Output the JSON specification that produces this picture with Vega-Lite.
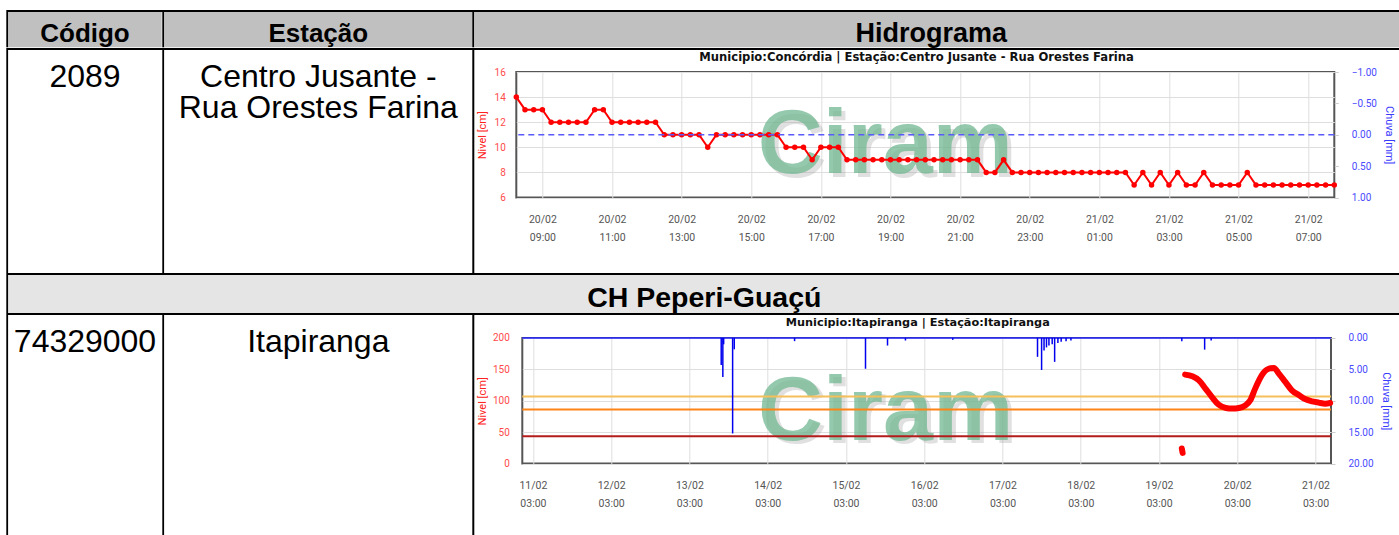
{
  "$schema": "https://vega.github.io/schema/vega-lite/v6.json",
  "background": "white",
  "padding": {"left": 6.3, "top": 10, "right": 0, "bottom": 0},
  "config": {
    "view": {"stroke": null},
    "concat": {"spacing": 0},
    "font": "Roboto",
    "axis": {"labelFont": "Roboto", "titleFont": "Roboto", "titleFontWeight": "normal"}
  },
  "datasets": {
    "nivel_top": [
      {"t": "2025-02-20T08:15", "nivel": 14}, {"t": "2025-02-20T08:30", "nivel": 13}, {"t": "2025-02-20T08:45", "nivel": 13}, {"t": "2025-02-20T09:00", "nivel": 13},
      {"t": "2025-02-20T09:15", "nivel": 12}, {"t": "2025-02-20T09:30", "nivel": 12}, {"t": "2025-02-20T09:45", "nivel": 12}, {"t": "2025-02-20T10:00", "nivel": 12},
      {"t": "2025-02-20T10:15", "nivel": 12}, {"t": "2025-02-20T10:30", "nivel": 13}, {"t": "2025-02-20T10:45", "nivel": 13}, {"t": "2025-02-20T11:00", "nivel": 12},
      {"t": "2025-02-20T11:15", "nivel": 12}, {"t": "2025-02-20T11:30", "nivel": 12}, {"t": "2025-02-20T11:45", "nivel": 12}, {"t": "2025-02-20T12:00", "nivel": 12},
      {"t": "2025-02-20T12:15", "nivel": 12}, {"t": "2025-02-20T12:30", "nivel": 11}, {"t": "2025-02-20T12:45", "nivel": 11}, {"t": "2025-02-20T13:00", "nivel": 11},
      {"t": "2025-02-20T13:15", "nivel": 11}, {"t": "2025-02-20T13:30", "nivel": 11}, {"t": "2025-02-20T13:45", "nivel": 10}, {"t": "2025-02-20T14:00", "nivel": 11},
      {"t": "2025-02-20T14:15", "nivel": 11}, {"t": "2025-02-20T14:30", "nivel": 11}, {"t": "2025-02-20T14:45", "nivel": 11}, {"t": "2025-02-20T15:00", "nivel": 11},
      {"t": "2025-02-20T15:15", "nivel": 11}, {"t": "2025-02-20T15:30", "nivel": 11}, {"t": "2025-02-20T15:45", "nivel": 11}, {"t": "2025-02-20T16:00", "nivel": 10},
      {"t": "2025-02-20T16:15", "nivel": 10}, {"t": "2025-02-20T16:30", "nivel": 10}, {"t": "2025-02-20T16:45", "nivel": 9}, {"t": "2025-02-20T17:00", "nivel": 10},
      {"t": "2025-02-20T17:15", "nivel": 10}, {"t": "2025-02-20T17:30", "nivel": 10}, {"t": "2025-02-20T17:45", "nivel": 9}, {"t": "2025-02-20T18:00", "nivel": 9},
      {"t": "2025-02-20T18:15", "nivel": 9}, {"t": "2025-02-20T18:30", "nivel": 9}, {"t": "2025-02-20T18:45", "nivel": 9}, {"t": "2025-02-20T19:00", "nivel": 9},
      {"t": "2025-02-20T19:15", "nivel": 9}, {"t": "2025-02-20T19:30", "nivel": 9}, {"t": "2025-02-20T19:45", "nivel": 9}, {"t": "2025-02-20T20:00", "nivel": 9},
      {"t": "2025-02-20T20:15", "nivel": 9}, {"t": "2025-02-20T20:30", "nivel": 9}, {"t": "2025-02-20T20:45", "nivel": 9}, {"t": "2025-02-20T21:00", "nivel": 9},
      {"t": "2025-02-20T21:15", "nivel": 9}, {"t": "2025-02-20T21:30", "nivel": 9}, {"t": "2025-02-20T21:45", "nivel": 8}, {"t": "2025-02-20T22:00", "nivel": 8},
      {"t": "2025-02-20T22:15", "nivel": 9}, {"t": "2025-02-20T22:30", "nivel": 8}, {"t": "2025-02-20T22:45", "nivel": 8}, {"t": "2025-02-20T23:00", "nivel": 8},
      {"t": "2025-02-20T23:15", "nivel": 8}, {"t": "2025-02-20T23:30", "nivel": 8}, {"t": "2025-02-20T23:45", "nivel": 8}, {"t": "2025-02-21T00:00", "nivel": 8},
      {"t": "2025-02-21T00:15", "nivel": 8}, {"t": "2025-02-21T00:30", "nivel": 8}, {"t": "2025-02-21T00:45", "nivel": 8}, {"t": "2025-02-21T01:00", "nivel": 8},
      {"t": "2025-02-21T01:15", "nivel": 8}, {"t": "2025-02-21T01:30", "nivel": 8}, {"t": "2025-02-21T01:45", "nivel": 8}, {"t": "2025-02-21T02:00", "nivel": 7},
      {"t": "2025-02-21T02:15", "nivel": 8}, {"t": "2025-02-21T02:30", "nivel": 7}, {"t": "2025-02-21T02:45", "nivel": 8}, {"t": "2025-02-21T03:00", "nivel": 7},
      {"t": "2025-02-21T03:15", "nivel": 8}, {"t": "2025-02-21T03:30", "nivel": 7}, {"t": "2025-02-21T03:45", "nivel": 7}, {"t": "2025-02-21T04:00", "nivel": 8},
      {"t": "2025-02-21T04:15", "nivel": 7}, {"t": "2025-02-21T04:30", "nivel": 7}, {"t": "2025-02-21T04:45", "nivel": 7}, {"t": "2025-02-21T05:00", "nivel": 7},
      {"t": "2025-02-21T05:15", "nivel": 8}, {"t": "2025-02-21T05:30", "nivel": 7}, {"t": "2025-02-21T05:45", "nivel": 7}, {"t": "2025-02-21T06:00", "nivel": 7},
      {"t": "2025-02-21T06:15", "nivel": 7}, {"t": "2025-02-21T06:30", "nivel": 7}, {"t": "2025-02-21T06:45", "nivel": 7}, {"t": "2025-02-21T07:00", "nivel": 7},
      {"t": "2025-02-21T07:15", "nivel": 7}, {"t": "2025-02-21T07:30", "nivel": 7}, {"t": "2025-02-21T07:45", "nivel": 7}
    ],
    "nivel_bottom": [
      {"t": "2025-02-19T10:00", "nivel": 24, "g": "a"}, {"t": "2025-02-19T10:15", "nivel": 17, "g": "a"},
      {"t": "2025-02-19T11:00", "nivel": 141.7, "g": "b"}, {"t": "2025-02-19T13:15", "nivel": 139, "g": "b"},
      {"t": "2025-02-19T15:15", "nivel": 132.6, "g": "b"}, {"t": "2025-02-19T17:15", "nivel": 119.4, "g": "b"},
      {"t": "2025-02-19T19:15", "nivel": 106, "g": "b"}, {"t": "2025-02-19T21:15", "nivel": 94, "g": "b"},
      {"t": "2025-02-19T23:30", "nivel": 88.5, "g": "b"}, {"t": "2025-02-20T01:30", "nivel": 87.6, "g": "b"},
      {"t": "2025-02-20T03:30", "nivel": 88.5, "g": "b"}, {"t": "2025-02-20T05:30", "nivel": 92.8, "g": "b"},
      {"t": "2025-02-20T07:00", "nivel": 100.8, "g": "b"}, {"t": "2025-02-20T08:30", "nivel": 119.4, "g": "b"},
      {"t": "2025-02-20T10:30", "nivel": 140.6, "g": "b"}, {"t": "2025-02-20T12:45", "nivel": 151.3, "g": "b"},
      {"t": "2025-02-20T14:15", "nivel": 152.2, "g": "b"}, {"t": "2025-02-20T15:45", "nivel": 143.3, "g": "b"},
      {"t": "2025-02-20T17:45", "nivel": 130, "g": "b"}, {"t": "2025-02-20T19:45", "nivel": 116.7, "g": "b"},
      {"t": "2025-02-20T22:00", "nivel": 108.8, "g": "b"}, {"t": "2025-02-21T00:00", "nivel": 102.4, "g": "b"},
      {"t": "2025-02-21T02:00", "nivel": 99.2, "g": "b"}, {"t": "2025-02-21T04:00", "nivel": 97.1, "g": "b"},
      {"t": "2025-02-21T06:00", "nivel": 95.5, "g": "b"}, {"t": "2025-02-21T07:30", "nivel": 96.5, "g": "b"}
    ],
    "chuva_bottom": [
      {"t": "2025-02-13T12:45", "chuva": 4.3}, {"t": "2025-02-13T13:15", "chuva": 6.2}, {"t": "2025-02-13T13:30", "chuva": 1.0},
      {"t": "2025-02-13T16:15", "chuva": 15.2}, {"t": "2025-02-13T16:45", "chuva": 1.8}, {"t": "2025-02-14T11:15", "chuva": 0.5},
      {"t": "2025-02-15T09:00", "chuva": 4.9}, {"t": "2025-02-15T15:45", "chuva": 1.2}, {"t": "2025-02-15T21:15", "chuva": 0.4},
      {"t": "2025-02-16T11:45", "chuva": 0.3}, {"t": "2025-02-17T13:45", "chuva": 3.0}, {"t": "2025-02-17T15:00", "chuva": 5.1},
      {"t": "2025-02-17T15:45", "chuva": 2.0}, {"t": "2025-02-17T16:30", "chuva": 1.5}, {"t": "2025-02-17T17:15", "chuva": 1.2},
      {"t": "2025-02-17T18:15", "chuva": 1.0}, {"t": "2025-02-17T19:00", "chuva": 3.8}, {"t": "2025-02-17T20:00", "chuva": 0.8},
      {"t": "2025-02-17T21:00", "chuva": 0.6}, {"t": "2025-02-17T22:30", "chuva": 0.5}, {"t": "2025-02-18T00:00", "chuva": 0.4},
      {"t": "2025-02-19T10:00", "chuva": 0.5}, {"t": "2025-02-19T17:00", "chuva": 1.85}, {"t": "2025-02-19T19:00", "chuva": 0.4}
    ],
    "limiares": [
      {"limiar": "1", "nivel": 107}, {"limiar": "2", "nivel": 86}, {"limiar": "3", "nivel": 43.5}
    ]
  },
  "spacing": 0,
  "vconcat": [
    {"width": 1400, "height": 2, "view": {"fill": "#000"}, "data": {"values": []}, "mark": "point"},
    {
      "spacing": 0,
      "hconcat": [
        {"width": 2, "height": 35.3, "view": {"fill": "#000"}, "data": {"values": []}, "mark": "point"},
        {"width": 153.4, "height": 35.3, "view": {"fill": "#c0c0c0"},
         "data": {"values": [{"txt": "Código"}]},
         "mark": {"type": "text", "font": "Liberation Sans", "fontSize": 26, "fontWeight": "bold", "color": "#000", "baseline": "middle", "dy": 4},
         "encoding": {"text": {"field": "txt"}}},
        {"width": 2, "height": 35.3, "view": {"fill": "#000"}, "data": {"values": []}, "mark": "point"},
        {"width": 308, "height": 35.3, "view": {"fill": "#c0c0c0"},
         "data": {"values": [{"txt": "Estação"}]},
         "mark": {"type": "text", "font": "Liberation Sans", "fontSize": 26, "fontWeight": "bold", "color": "#000", "baseline": "middle", "dy": 4},
         "encoding": {"text": {"field": "txt"}}},
        {"width": 2, "height": 35.3, "view": {"fill": "#000"}, "data": {"values": []}, "mark": "point"},
        {"width": 930, "height": 35.3, "view": {"fill": "#c0c0c0"},
         "data": {"values": [{"txt": "Hidrograma"}]},
         "mark": {"type": "text", "font": "Liberation Sans", "fontSize": 27, "fontWeight": "bold", "color": "#000", "baseline": "middle", "dy": 4, "dx": -8},
         "encoding": {"text": {"field": "txt"}}}
      ]
    },
    {"width": 1400, "height": 2, "view": {"fill": "#000"}, "data": {"values": []}, "mark": "point"},
    {
      "spacing": 0,
      "hconcat": [
        {"width": 2, "height": 223, "view": {"fill": "#000"}, "data": {"values": []}, "mark": "point"},
        {"width": 153.4, "height": 223, "view": {"fill": "white"},
         "data": {"values": [{"txt": "2089"}]},
         "mark": {"type": "text", "font": "Liberation Sans", "fontSize": 32, "color": "#000", "baseline": "middle"},
         "encoding": {"text": {"field": "txt"}, "y": {"value": 27}}},
        {"width": 2, "height": 223, "view": {"fill": "#000"}, "data": {"values": []}, "mark": "point"},
        {"width": 308, "height": 223, "view": {"fill": "white"},
         "data": {"values": [{"txt": "Centro Jusante -\nRua Orestes Farina"}]},
         "mark": {"type": "text", "font": "Liberation Sans", "fontSize": 32, "color": "#000", "baseline": "middle", "lineBreak": "\n", "lineHeight": 31.5},
         "encoding": {"text": {"field": "txt"}, "y": {"value": 27}}},
        {"width": 2, "height": 223, "view": {"fill": "#000"}, "data": {"values": []}, "mark": "point"},
        {
          "spacing": 0,
          "vconcat": [
            {"width": 800.6, "height": 15.7, "view": {"fill": "transparent"},
             "data": {"values": [{"txt": "Municipio:Concórdia | Estação:Centro Jusante - Rua Orestes Farina"}]},
             "mark": {"type": "text", "font": "DejaVu Sans", "fontSize": 11.6, "fontWeight": "bold", "color": "#111", "baseline": "middle", "dy": 0.3},
             "encoding": {"text": {"field": "txt"}}},
            {
              "width": 818, "height": 125.5,
              "view": {"stroke": "#555", "strokeWidth": 2},
              "layer": [
                {"data": {"values": [{"w": "Ciram"}]},
                 "mark": {"type": "text", "font": "Liberation Sans", "fontWeight": "bold", "fontSize": 90, "color": "#9a9a9a", "opacity": 0.3, "dx": -36, "dy": 15, "baseline": "middle"},
                 "encoding": {"text": {"field": "w"}}},
                {"data": {"values": [{"w": "Ciram"}]},
                 "mark": {"type": "text", "font": "Liberation Sans", "fontWeight": "bold", "fontSize": 90, "color": "#72b892", "opacity": 0.75, "dx": -40, "dy": 11.5, "baseline": "middle"},
                 "encoding": {"text": {"field": "w"}}},
                {"data": {"name": "nivel_top"},
                 "mark": {"type": "line", "color": "#ff0000", "strokeWidth": 2, "point": {"filled": true, "size": 30, "color": "#ff0000"}},
                 "encoding": {
                   "x": {"field": "t", "type": "temporal",
                         "scale": {"domain": [{"year": 2025, "month": 2, "date": 20, "hours": 8, "minutes": 15}, {"year": 2025, "month": 2, "date": 21, "hours": 7, "minutes": 45}]},
                         "axis": {"title": null, "values": [
                           {"year": 2025, "month": 2, "date": 20, "hours": 9}, {"year": 2025, "month": 2, "date": 20, "hours": 11},
                           {"year": 2025, "month": 2, "date": 20, "hours": 13}, {"year": 2025, "month": 2, "date": 20, "hours": 15},
                           {"year": 2025, "month": 2, "date": 20, "hours": 17}, {"year": 2025, "month": 2, "date": 20, "hours": 19},
                           {"year": 2025, "month": 2, "date": 20, "hours": 21}, {"year": 2025, "month": 2, "date": 20, "hours": 23},
                           {"year": 2025, "month": 2, "date": 21, "hours": 1}, {"year": 2025, "month": 2, "date": 21, "hours": 3},
                           {"year": 2025, "month": 2, "date": 21, "hours": 5}, {"year": 2025, "month": 2, "date": 21, "hours": 7}],
                           "labelExpr": "[timeFormat(datum.value, '%d/%m'), timeFormat(datum.value, '%H:%M')]",
                           "labelLineHeight": 18, "labelFontSize": 10.5, "labelColor": "#555", "labelPadding": 17,
                           "ticks": false, "domain": false, "grid": true, "gridColor": "#dedede", "labelOverlap": false, "labelFlush": false}},
                   "y": {"field": "nivel", "type": "quantitative", "scale": {"domain": [6, 16]},
                         "axis": {"title": "Nivel [cm]", "values": [6, 8, 10, 12, 14, 16], "titleColor": "#ff2020", "titleFontSize": 11, "titlePadding": 7,
                                  "labelColor": "#ff4a4a", "labelFontSize": 10, "labelPadding": 11, "labelOverlap": false, "ticks": false, "domain": false, "grid": true, "gridColor": "#dedede"}}
                 }},
                {"data": {"values": [{"chuva": 0}]},
                 "mark": {"type": "rule", "color": "#5a5aff", "strokeDash": [6, 4], "strokeWidth": 1.3},
                 "encoding": {
                   "y": {"field": "chuva", "type": "quantitative", "scale": {"domain": [-1, 1], "reverse": true},
                         "axis": {"orient": "right", "title": "Chuva [mm]", "values": [-1, -0.5, 0, 0.5, 1], "format": ".2f",
                                  "titleColor": "#3c3cff", "titleFontSize": 11, "titlePadding": 7, "labelOverlap": false,
                                  "labelColor": "#4a4aff", "labelFontSize": 10, "labelPadding": 13, "ticks": true, "tickSize": 4, "tickColor": "#cccccc", "domain": false, "grid": false}}
                 }}
              ],
              "resolve": {"scale": {"y": "independent"}, "axis": {"y": "independent"}}
            }
          ]
        }
      ]
    },
    {"width": 1400, "height": 2, "view": {"fill": "#000"}, "data": {"values": []}, "mark": "point"},
    {
      "spacing": 0,
      "hconcat": [
        {"width": 2, "height": 38, "view": {"fill": "#000"}, "data": {"values": []}, "mark": "point"},
        {"width": 1392, "height": 38, "view": {"fill": "#e6e5e6"},
         "data": {"values": [{"txt": "CH Peperi-Guaçú"}]},
         "mark": {"type": "text", "font": "Liberation Sans", "fontSize": 28.5, "fontWeight": "bold", "color": "#000", "baseline": "middle", "dy": 4.5},
         "encoding": {"text": {"field": "txt"}}}
      ]
    },
    {"width": 1400, "height": 2, "view": {"fill": "#000"}, "data": {"values": []}, "mark": "point"},
    {
      "spacing": 0,
      "hconcat": [
        {"width": 2, "height": 225, "view": {"fill": "#000"}, "data": {"values": []}, "mark": "point"},
        {"width": 153.4, "height": 225, "view": {"fill": "white"},
         "data": {"values": [{"txt": "74329000"}]},
         "mark": {"type": "text", "font": "Liberation Sans", "fontSize": 32, "color": "#000", "baseline": "middle"},
         "encoding": {"text": {"field": "txt"}, "y": {"value": 27.5}}},
        {"width": 2, "height": 225, "view": {"fill": "#000"}, "data": {"values": []}, "mark": "point"},
        {"width": 308, "height": 225, "view": {"fill": "white"},
         "data": {"values": [{"txt": "Itapiranga"}]},
         "mark": {"type": "text", "font": "Liberation Sans", "fontSize": 32, "color": "#000", "baseline": "middle"},
         "encoding": {"text": {"field": "txt"}, "y": {"value": 27.5}}},
        {"width": 2, "height": 225, "view": {"fill": "#000"}, "data": {"values": []}, "mark": "point"},
        {
          "spacing": 0,
          "vconcat": [
            {"width": 791, "height": 16.1, "view": {"fill": "transparent"},
             "data": {"values": [{"txt": "Municipio:Itapiranga | Estação:Itapiranga"}]},
             "mark": {"type": "text", "font": "DejaVu Sans", "fontSize": 11.3, "fontWeight": "bold", "color": "#111", "baseline": "middle", "dy": 0},
             "encoding": {"text": {"field": "txt"}}},
            {
              "width": 808.7, "height": 125.6,
              "view": {"stroke": "#555", "strokeWidth": 2},
              "layer": [
                {"data": {"values": [{"w": "Ciram"}]},
                 "mark": {"type": "text", "font": "Liberation Sans", "fontWeight": "bold", "fontSize": 90, "color": "#9a9a9a", "opacity": 0.3, "dx": -37, "dy": 15.5, "baseline": "middle"},
                 "encoding": {"text": {"field": "w"}}},
                {"data": {"values": [{"w": "Ciram"}]},
                 "mark": {"type": "text", "font": "Liberation Sans", "fontWeight": "bold", "fontSize": 90, "color": "#72b892", "opacity": 0.75, "dx": -41, "dy": 12, "baseline": "middle"},
                 "encoding": {"text": {"field": "w"}}},
                {
                  "layer": [
                    {"data": {"name": "limiares"},
                     "mark": {"type": "rule", "strokeWidth": 2},
                     "encoding": {
                       "y": {"field": "nivel", "type": "quantitative", "scale": {"domain": [0, 200]},
                             "axis": {"title": "Nivel [cm]", "values": [0, 50, 100, 150, 200], "titleColor": "#ff2020", "titleFontSize": 11, "titlePadding": 5.3,
                                      "labelColor": "#ff4a4a", "labelFontSize": 10, "labelPadding": 13, "labelOverlap": false, "ticks": false, "domain": false, "grid": true, "gridColor": "#dedede"}},
                       "color": {"field": "limiar", "type": "nominal", "legend": null, "scale": {"domain": ["1", "2", "3"], "range": ["#f5c05a", "#ff8416", "#b41c1c"]}}
                     }},
                    {"data": {"name": "nivel_bottom"},
                     "mark": {"type": "line", "color": "#ff0000", "strokeWidth": 6, "strokeCap": "round", "interpolate": "monotone"},
                     "encoding": {
                       "x": {"field": "t", "type": "temporal",
                             "scale": {"domain": [{"year": 2025, "month": 2, "date": 10, "hours": 23, "minutes": 45}, {"year": 2025, "month": 2, "date": 21, "hours": 7, "minutes": 45}]},
                             "axis": {"title": null, "values": [
                               {"year": 2025, "month": 2, "date": 11, "hours": 3}, {"year": 2025, "month": 2, "date": 12, "hours": 3},
                               {"year": 2025, "month": 2, "date": 13, "hours": 3}, {"year": 2025, "month": 2, "date": 14, "hours": 3},
                               {"year": 2025, "month": 2, "date": 15, "hours": 3}, {"year": 2025, "month": 2, "date": 16, "hours": 3},
                               {"year": 2025, "month": 2, "date": 17, "hours": 3}, {"year": 2025, "month": 2, "date": 18, "hours": 3},
                               {"year": 2025, "month": 2, "date": 19, "hours": 3}, {"year": 2025, "month": 2, "date": 20, "hours": 3},
                               {"year": 2025, "month": 2, "date": 21, "hours": 3}],
                               "labelExpr": "[timeFormat(datum.value, '%d/%m'), timeFormat(datum.value, '%H:%M')]",
                               "labelLineHeight": 18, "labelFontSize": 10.5, "labelColor": "#555", "labelPadding": 17,
                               "ticks": false, "domain": false, "grid": true, "gridColor": "#dedede", "labelOverlap": false, "labelFlush": false}},
                       "y": {"field": "nivel", "type": "quantitative", "scale": {"domain": [0, 200]},
                             "axis": {"title": "Nivel [cm]", "values": [0, 50, 100, 150, 200], "titleColor": "#ff2020", "titleFontSize": 11, "titlePadding": 5.3,
                                      "labelColor": "#ff4a4a", "labelFontSize": 10, "labelPadding": 13, "labelOverlap": false, "ticks": false, "domain": false, "grid": true, "gridColor": "#dedede"}},
                       "detail": {"field": "g", "type": "nominal"}
                     }}
                  ]
                },
                {
                  "layer": [
                    {"data": {"values": [{"chuva": 0}]},
                     "mark": {"type": "rule", "color": "#2020ff", "strokeWidth": 1.5},
                     "encoding": {
                       "y": {"field": "chuva", "type": "quantitative", "scale": {"domain": [0, 20], "reverse": true},
                             "axis": {"orient": "right", "title": "Chuva [mm]", "values": [0, 5, 10, 15, 20], "format": ".2f",
                                      "titleColor": "#3c3cff", "titleFontSize": 11, "titlePadding": 7, "labelOverlap": false,
                                      "labelColor": "#4a4aff", "labelFontSize": 10, "labelPadding": 13, "ticks": true, "tickSize": 4, "tickColor": "#cccccc", "domain": false, "grid": false}}
                     }},
                    {"data": {"name": "chuva_bottom"},
                     "mark": {"type": "rule", "color": "#0000ee", "strokeWidth": 1.5},
                     "encoding": {
                       "x": {"field": "t", "type": "temporal"},
                       "y": {"field": "chuva", "type": "quantitative", "scale": {"domain": [0, 20], "reverse": true},
                             "axis": {"orient": "right", "title": "Chuva [mm]", "values": [0, 5, 10, 15, 20], "format": ".2f",
                                      "titleColor": "#3c3cff", "titleFontSize": 11, "titlePadding": 7, "labelOverlap": false,
                                      "labelColor": "#4a4aff", "labelFontSize": 10, "labelPadding": 13, "ticks": true, "tickSize": 4, "tickColor": "#cccccc", "domain": false, "grid": false}},
                       "y2": {"datum": 0}
                     }}
                  ]
                }
              ],
              "resolve": {"scale": {"y": "independent"}, "axis": {"y": "independent"}}
            }
          ]
        }
      ]
    }
  ]
}
